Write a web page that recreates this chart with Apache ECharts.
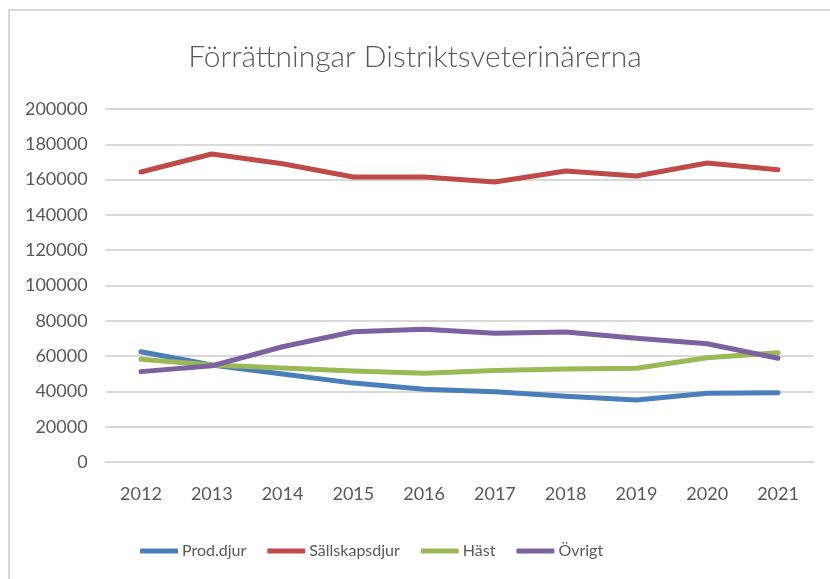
<!DOCTYPE html>
<html>
<head>
<meta charset="utf-8">
<script src="https://cdn.jsdelivr.net/npm/echarts@6/dist/echarts.min.js"></script>
<style>
  html, body {margin: 0; padding: 0; background: #fff;}
  #chart {width: 830px; height: 579px;}
</style>
</head>
<body>
<div id="chart"></div>
<script>
const years = ['2012', '2013', '2014', '2015', '2016', '2017', '2018', '2019', '2020', '2021'];
const prodDjur = [62500, 55000, 49900, 44700, 41200, 39800, 37200, 35100, 38900, 39300];
const sallskapsdjur = [164300, 174500, 169000, 161500, 161500, 158600, 164900, 162000, 169400, 165600];
const hast = [58200, 55000, 53300, 51500, 50300, 51800, 52700, 53100, 59100, 61900];
const ovrigt = [51200, 54500, 65300, 73800, 75200, 72900, 73700, 70100, 67000, 58800];

const font = 'Lato, "Open Sans", sans-serif';
const textGrey = '#595959';
const gridGrey = '#d9d9d9';

const chart = echarts.init(document.getElementById('chart'));

function line(name, data, color) {
	return {
		name: name,
		type: 'line',
		data: data,
		showSymbol: false,
		symbol: 'none',
		lineStyle: {width: 5, color: color, cap: 'round', join: 'round'},
		itemStyle: {color: color},
	};
}

chart.setOption({
	animation: false,
	textStyle: {fontFamily: font},
	title: {
		text: 'Förrättningar Distriktsveterinärerna',
		left: 'center',
		top: 37,
		textStyle: {fontFamily: font, fontSize: 30, fontWeight: 300, color: textGrey},
	},
	graphic: [
		{
			// chart frame, runs off the right and bottom edge
			type: 'rect',
			shape: {x: 9, y: 10, width: 900, height: 700},
			style: {fill: 'none', stroke: gridGrey, lineWidth: 2},
			silent: true,
			z: -1,
		},
	],
	grid: {left: 105.6, right: 16.6, top: 109, bottom: 117},
	xAxis: {
		type: 'category',
		data: years,
		boundaryGap: true,
		axisLine: {lineStyle: {color: gridGrey, width: 2}},
		axisTick: {show: false},
		axisLabel: {color: textGrey, fontSize: 18, fontFamily: font, margin: 23},
	},
	yAxis: {
		type: 'value',
		min: 0,
		max: 200000,
		interval: 20000,
		axisLine: {show: false},
		axisTick: {show: false},
		splitLine: {lineStyle: {color: gridGrey, width: 2}},
		axisLabel: {color: textGrey, fontSize: 18, fontFamily: font, margin: 18, formatter: v => String(v)},
	},
	legend: {
		top: 538,
		left: 135,
		icon: 'roundRect',
		itemWidth: 38,
		itemHeight: 5,
		itemGap: 21,
		textStyle: {color: textGrey, fontSize: 16, fontFamily: font, padding: [0, 0, 0, -1]},
		data: ['Prod.djur', 'Sällskapsdjur', 'Häst', 'Övrigt'],
	},
	series: [
		line('Prod.djur', prodDjur, '#4a7ebb'),
		line('Sällskapsdjur', sallskapsdjur, '#be4b48'),
		line('Häst', hast, '#98b954'),
		line('Övrigt', ovrigt, '#7d60a0'),
	],
});
</script>
</body>
</html>
